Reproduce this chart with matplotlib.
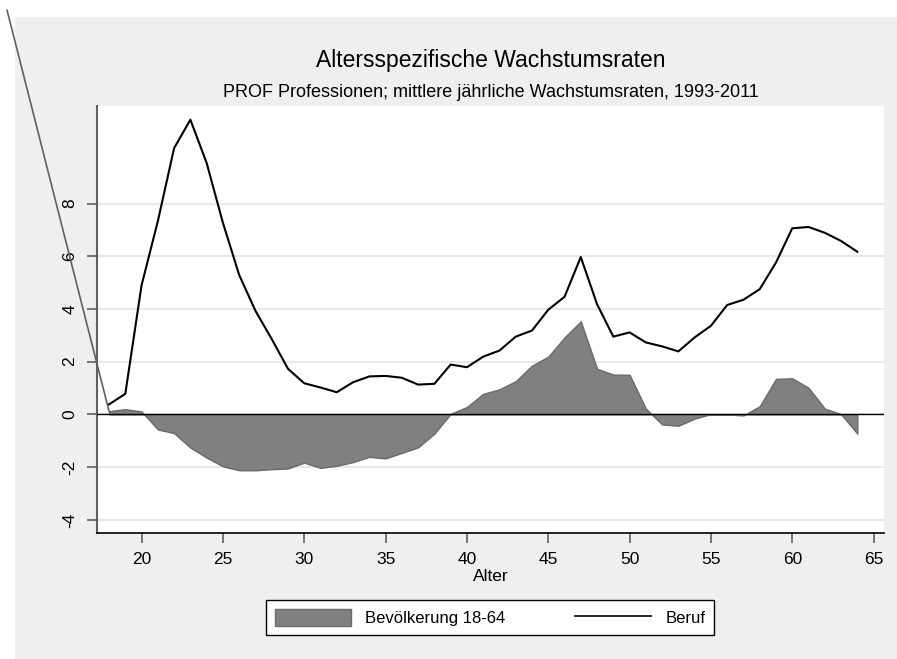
import matplotlib.pyplot as plt
from matplotlib.patches import Patch, Rectangle
from matplotlib.lines import Line2D

# Alter 18..64
alter = list(range(18, 65))

# Beruf (black line)
beruf = [0.38, 0.78, 4.9, 7.33, 10.1, 11.18, 9.54, 7.27, 5.29, 3.93,
         2.86, 1.73, 1.18, 1.02, 0.84, 1.22, 1.44, 1.46, 1.39, 1.13,
         1.16, 1.89, 1.79, 2.19, 2.42, 2.95, 3.18, 3.97, 4.46, 5.97,
         4.18, 2.95, 3.11, 2.73, 2.58, 2.39, 2.92, 3.36, 4.15, 4.35,
         4.75, 5.76, 7.06, 7.11, 6.89, 6.58, 6.17]

# Bevoelkerung 18-64 (grey area)
bevoelkerung = [0.12, 0.2, 0.11, -0.57, -0.71, -1.26, -1.64, -1.97, -2.12, -2.12,
                -2.08, -2.05, -1.83, -2.03, -1.95, -1.81, -1.61, -1.67, -1.46, -1.25,
                -0.73, 0.02, 0.28, 0.78, 0.95, 1.26, 1.85, 2.19, 2.92, 3.53,
                1.73, 1.51, 1.5, 0.22, -0.38, -0.43, -0.16, 0.01, 0.0, -0.04,
                0.31, 1.35, 1.37, 1.01, 0.22, 0.01, -0.73]

yticks = [-4, -2, 0, 2, 4, 6, 8]
xticks = [20, 25, 30, 35, 40, 45, 50, 55, 60, 65]

plt.rcParams['font.family'] = ['Liberation Sans', 'DejaVu Sans']

fig = plt.figure(figsize=(8.97, 6.59), dpi=100)
fig.patch.set_facecolor('white')
# grey graph region
fig.patches.append(Rectangle((15 / 897, 0), 1 - 15 / 897, 1 - 17 / 659,
                             transform=fig.transFigure, facecolor='#efefef',
                             edgecolor='none', zorder=-5))

ax = fig.add_axes([97 / 897, 1 - 533 / 659, (884 - 97) / 897, (533 - 106) / 659])
ax.set_zorder(2)
ax.set_facecolor('white')

for t in yticks:
    ax.axhline(t, color='#e8e8e8', lw=1.5, zorder=1)

ax.fill_between(alter, bevoelkerung, 0, facecolor='#808080', edgecolor='#6a6a6a',
                lw=1.0, zorder=2)
ax.axhline(0, color='black', lw=1.0, zorder=3)
ax.plot(alter, beruf, color='black', lw=1.5, zorder=4)

# stray baseline segment leaving the plot region
ax.annotate('', xy=(alter[0], 0.12), xycoords='data',
            xytext=(7 / 897, 1 - 10 / 659), textcoords='figure fraction',
            arrowprops=dict(arrowstyle='-', color='#606060', lw=1.2,
                            shrinkA=0, shrinkB=0), annotation_clip=False)

ax.set_xlim(17.26, 65.64)
ax.set_ylim(-4.5, 11.7)
ax.set_xticks(xticks)
ax.set_yticks(yticks)
ax.set_yticklabels([str(t) for t in yticks], rotation=90, va='center')
ax.tick_params(axis='both', direction='out', length=7, width=1.2, color='#606060',
               labelsize=12.5)
ax.tick_params(axis='y', pad=7)
ax.tick_params(axis='x', pad=7)
for s in ['top', 'right']:
    ax.spines[s].set_visible(False)
ax.spines['left'].set_color('#606060')
ax.spines['left'].set_linewidth(1.5)
ax.spines['bottom'].set_color('black')
ax.spines['bottom'].set_linewidth(1.2)

ax.set_xlabel('Alter', fontsize=12.5, labelpad=1)

xc = 490.5 / 897
fig.text(xc, 1 - 67 / 659, 'Altersspezifische Wachstumsraten', ha='center',
         va='baseline', fontsize=16.5)
fig.text(xc, 1 - 97 / 659,
         'PROF Professionen; mittlere jährliche Wachstumsraten, 1993-2011',
         ha='center', va='baseline', fontsize=13)

handles = [Patch(facecolor='#808080', edgecolor='#6a6a6a', lw=1.0),
           Line2D([0], [0], color='black', lw=1.2)]
leg = fig.legend(handles, ['Bevölkerung 18-64', 'Beruf'], ncol=2,
                 loc='center', bbox_to_anchor=(490 / 897, 1 - 617.5 / 659),
                 fontsize=12, frameon=True, fancybox=False, edgecolor='black',
                 handlelength=4.56, handleheight=1.2, handletextpad=0.84,
                 columnspacing=4.2, borderpad=0.55)
leg.get_frame().set_linewidth(1.0)
leg.get_frame().set_facecolor('white')
leg.get_frame().set_alpha(1)

fig.savefig('out.png', dpi=100)
